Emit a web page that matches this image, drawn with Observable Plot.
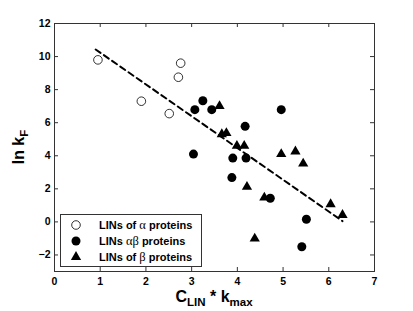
<!DOCTYPE html>
<html><head><meta charset="utf-8">
<script src="https://cdn.jsdelivr.net/npm/d3@7"></script>
<script src="https://cdn.jsdelivr.net/npm/@observablehq/plot@0.6"></script>
<style>body{margin:0;background:#fff}</style>
</head><body><div id="chart"></div>
<script>
// LINs of alpha proteins (open circles)
const alphaX = [0.95, 1.90, 2.51, 2.71, 2.76];
const alphaY = [9.8, 7.3, 6.55, 8.75, 9.6];
// LINs alpha-beta proteins (filled circles)
const abX = [3.07, 3.245, 3.44, 4.96, 4.17, 3.04, 3.90, 4.19, 3.88, 4.72, 5.51, 5.41];
const abY = [6.79, 7.33, 6.79, 6.79, 5.78, 4.10, 3.86, 3.86, 2.68, 1.43, 0.16, -1.50];
// LINs of beta proteins (triangles)
const betaX = [3.61, 3.66, 3.76, 3.99, 4.15, 4.96, 5.27, 5.44, 4.21, 4.59, 6.04, 6.30, 4.38];
const betaY = [7.00, 5.30, 5.37, 4.60, 4.60, 4.10, 4.26, 3.53, 2.12, 1.47, 1.07, 0.42, -1.01];
// fitted dashed line
const fitX = [0.9, 6.3];
const fitY = [10.43, 0.05];
const xTicks = [0, 1, 2, 3, 4, 5, 6, 7];
const yTicks = [-2, 0, 2, 4, 6, 8, 10, 12];
const xDomain = [0, 7];
const yDomain = [-3, 12];
const legendNames = [["LINs of ", "α", " proteins"], ["LINs ", "αβ", " proteins"], ["LINs of ", "β", " proteins"]];

const W = 413, H = 311;
const mL = 54, mR = 39, mT = 23, mB = 40;
const innerW = W - mL - mR, innerH = H - mT - mB;
const tickLen = 4;

const pts = (xs, ys) => xs.map((x, i) => ({x, y: ys[i]}));
const alpha = pts(alphaX, alphaY), ab = pts(abX, abY), beta = pts(betaX, betaY), fit = pts(fitX, fitY);

const plot = Plot.plot({
  width: W, height: H,
  marginLeft: mL, marginRight: mR, marginTop: mT, marginBottom: mB,
  style: {fontFamily: "Liberation Sans, Arial, sans-serif", fontSize: "10.5px", fontWeight: "bold", color: "#000", background: "#fff"},
  x: {domain: xDomain},
  y: {domain: yDomain},
  marks: [
    Plot.axisX({ticks: xTicks, tickSize: 0, tickPadding: 6, label: null, tickFormat: d => String(d).replace("-", "−")}),
    Plot.axisY({ticks: yTicks, tickSize: 0, tickPadding: 4, label: null, tickFormat: d => String(d).replace("-", "−")}),
    Plot.tickX(xTicks, {x: d => d, insetTop: innerH - tickLen, stroke: "#333"}),
    Plot.tickX(xTicks, {x: d => d, insetBottom: innerH - tickLen, stroke: "#333"}),
    Plot.tickY(yTicks, {y: d => d, insetRight: innerW - tickLen, stroke: "#333"}),
    Plot.tickY(yTicks, {y: d => d, insetLeft: innerW - tickLen, stroke: "#333"}),
    Plot.frame({stroke: "#333"}),
    Plot.line(fit, {x: "x", y: "y", stroke: "#000", strokeWidth: 2, strokeDasharray: "6,4"}),
    Plot.dot(alpha, {x: "x", y: "y", r: 4.3, fill: "#fff", stroke: "#000", strokeWidth: 0.8}),
    Plot.dot(ab, {x: "x", y: "y", r: 4.5, fill: "#000", stroke: "none"}),
    Plot.dot(beta, {x: "x", y: "y", r: 3.8, symbol: "triangle", fill: "#000", stroke: "none"})
  ]
});

const svg = d3.select(plot);
// axis labels
const xl = svg.append("text")
  .attr("x", mL + innerW / 2).attr("y", 302)
  .attr("text-anchor", "middle").attr("font-size", 16).attr("font-weight", "bold");
xl.append("tspan").text("C");
xl.append("tspan").attr("font-size", 11.5).attr("dy", 4).text("LIN");
xl.append("tspan").attr("dy", -4).text(" * k");
xl.append("tspan").attr("font-size", 11.5).attr("dy", 4).text("max");

const yl = svg.append("text")
  .attr("transform", `translate(24,${mT + innerH / 2}) rotate(-90)`)
  .attr("text-anchor", "middle").attr("font-size", 16).attr("font-weight", "bold");
yl.append("tspan").text("ln k");
yl.append("tspan").attr("font-size", 11.5).attr("dy", 4).text("F");

// legend
const lg = svg.append("g").attr("text-anchor", "start");
lg.append("rect").attr("x", 60.5).attr("y", 214.5).attr("width", 141).attr("height", 52)
  .attr("fill", "#fff").attr("stroke", "#333");
const rows = [225, 241, 257];
const sym = [d3.symbol(d3.symbolCircle, Math.PI * 4.3 * 4.3), d3.symbol(d3.symbolCircle, Math.PI * 4.5 * 4.5), d3.symbol(d3.symbolTriangle, Math.PI * 3.8 * 3.8)];
legendNames.forEach((parts, i) => {
  lg.append("path").attr("d", sym[i]()).attr("transform", `translate(76,${rows[i]})`)
    .attr("fill", i === 0 ? "#fff" : "#000").attr("stroke", i === 0 ? "#000" : "none").attr("stroke-width", 0.8);
  const t = lg.append("text").attr("x", 99).attr("y", rows[i]).attr("dy", "0.36em")
    .attr("text-anchor", "start").attr("font-size", 11).attr("font-weight", "bold");
  t.append("tspan").text(parts[0]);
  t.append("tspan").attr("font-weight", "normal").attr("font-family", "Liberation Serif, serif").attr("font-size", 12.5).text(parts[1]);
  t.append("tspan").text(parts[2]);
});

document.getElementById("chart").appendChild(plot);
</script>
</body></html>
